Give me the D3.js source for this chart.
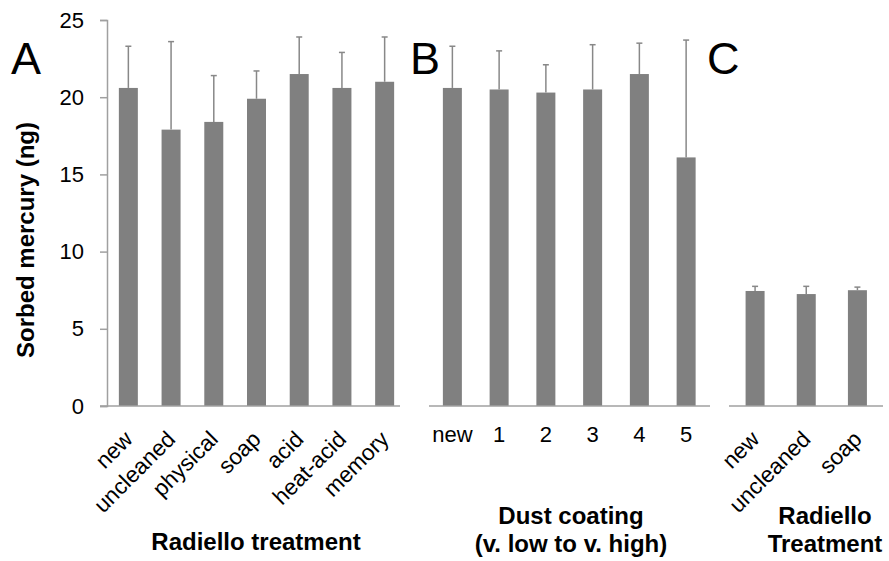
<!DOCTYPE html>
<html>
<head>
<meta charset="utf-8">
<script src="https://cdn.jsdelivr.net/npm/d3@7"></script>
<style>
  body { margin: 0; background: #fff; }
  svg text { font-family: "Liberation Sans", Arial, sans-serif; fill: #000; }
</style>
</head>
<body>
<svg id="chart" width="889" height="561"></svg>
<script>
// Panel A - Radiello treatment
var treatCats = ['new', 'uncleaned', 'physical', 'soap', 'acid', 'heat-acid', 'memory'];
var treatMeans = [20.6, 17.9, 18.4, 19.9, 21.5, 20.6, 21.0];
var treatErr = [2.7, 5.7, 3.0, 1.8, 2.4, 2.3, 2.9];

// Panel B - dust coating
var dustCats = ['new', '1', '2', '3', '4', '5'];
var dustMeans = [20.6, 20.5, 20.3, 20.5, 21.5, 16.1];
var dustErr = [2.7, 2.5, 1.8, 2.9, 2.0, 7.6];

// Panel C - Radiello treatment (second set)
var radCats = ['new', 'uncleaned', 'soap'];
var radMeans = [7.45, 7.25, 7.5];
var radErr = [0.3, 0.5, 0.2];

var yTicks = [0, 5, 10, 15, 20, 25];

var svg = d3.select('#chart');
var barColor = '#808080';
var axisColor = '#a0a0a0';
var barWidth = 19;

var y = d3.scaleLinear().domain([0, 25]).range([406, 20]);

//the panels share the y scale, only the first has an axis
var panels = [
  { letter: 'A', letterX: 11, cats: treatCats, means: treatMeans, err: treatErr,
    range: [107, 406], line: [100, 400], rotate: true,
    title: ['Radiello treatment'], titleX: 256, titleY: 550 },
  { letter: 'B', letterX: 410, cats: dustCats, means: dustMeans, err: dustErr,
    range: [429, 709.5], line: [429, 710], rotate: false,
    title: ['Dust coating', '(v. low to v. high)'], titleX: 571, titleY: 524 },
  { letter: 'C', letterX: 707, cats: radCats, means: radMeans, err: radErr,
    range: [729.5, 883], line: [729, 883], rotate: true,
    title: ['Radiello', 'Treatment'], titleX: 825, titleY: 524 }
];

// y axis
var yAxis = svg.append('g')
  .attr('transform', 'translate(107,0)')
  .call(d3.axisLeft(y).tickValues(yTicks).tickSize(7).tickPadding(16));
yAxis.select('.domain').attr('stroke', axisColor).attr('stroke-width', 1.5);
yAxis.selectAll('.tick line').attr('stroke', axisColor).attr('stroke-width', 1.5);
yAxis.selectAll('.tick text').style('font-size', '22px').attr('fill', '#000');

svg.append('text')
  .attr('transform', 'translate(34,240) rotate(-90)')
  .attr('text-anchor', 'middle')
  .style('font-size', '24px')
  .style('font-weight', 'bold')
  .text('Sorbed mercury (ng)');

panels.forEach(function(p) {
  var x = d3.scaleBand().domain(p.cats).range(p.range);
  var data = p.cats.map(function(c, i) { return { cat: c, mean: p.means[i], err: p.err[i] }; });
  var g = svg.append('g');

  g.selectAll('.bar')
    .data(data)
    .enter()
    .append('rect')
    .attr('class', 'bar')
    .attr('x', function(d) { return x(d.cat) + x.bandwidth() / 2 - barWidth / 2; })
    .attr('y', function(d) { return y(d.mean); })
    .attr('width', barWidth)
    .attr('height', function(d) { return y(0) - y(d.mean); })
    .attr('fill', barColor);

  //upper error bars only
  var eb = g.selectAll('.err')
    .data(data)
    .enter()
    .append('g')
    .attr('class', 'err')
    .attr('stroke', '#888')
    .attr('stroke-width', 1.5);
  eb.append('line')
    .attr('x1', function(d) { return x(d.cat) + x.bandwidth() / 2; })
    .attr('x2', function(d) { return x(d.cat) + x.bandwidth() / 2; })
    .attr('y1', function(d) { return y(d.mean); })
    .attr('y2', function(d) { return y(d.mean + d.err); });
  eb.append('line')
    .attr('x1', function(d) { return x(d.cat) + x.bandwidth() / 2 - 3; })
    .attr('x2', function(d) { return x(d.cat) + x.bandwidth() / 2 + 3; })
    .attr('y1', function(d) { return y(d.mean + d.err); })
    .attr('y2', function(d) { return y(d.mean + d.err); });

  g.append('line')
    .attr('x1', p.line[0]).attr('x2', p.line[1])
    .attr('y1', y(0)).attr('y2', y(0))
    .attr('stroke', axisColor)
    .attr('stroke-width', 1.5);

  var labels = g.selectAll('.lab')
    .data(p.cats)
    .enter()
    .append('text')
    .attr('class', 'lab')
    .text(function(d) { return d; });
  if (p.rotate) {
    labels
      .style('font-size', '22.5px')
      .attr('text-anchor', 'end')
      .attr('dy', '0.35em')
      .attr('transform', function(d) {
        return 'translate(' + (x(d) + x.bandwidth() / 2) + ',435) rotate(-45)';
      });
  } else {
    labels
      .style('font-size', '22px')
      .attr('text-anchor', 'middle')
      .attr('x', function(d) { return x(d) + x.bandwidth() / 2; })
      .attr('y', 442);
  }

  p.title.forEach(function(t, i) {
    g.append('text')
      .attr('x', p.titleX)
      .attr('y', p.titleY + i * 28)
      .attr('text-anchor', 'middle')
      .style('font-size', '24px')
      .style('font-weight', 'bold')
      .text(t);
  });

  g.append('text')
    .attr('x', p.letterX)
    .attr('y', 74)
    .style('font-size', '45px')
    .text(p.letter);
});
</script>
</body>
</html>
